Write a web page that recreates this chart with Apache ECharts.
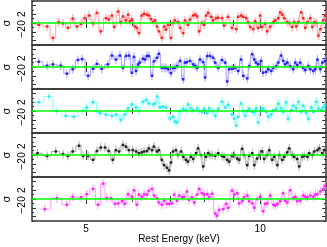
<!DOCTYPE html>
<html><head><meta charset="utf-8">
<script src="https://cdn.jsdelivr.net/npm/echarts@6/dist/echarts.min.js"></script>
<style>html,body{margin:0;padding:0;background:#fff}#c{width:327px;height:247px}</style>
</head><body><div id="c"></div>
<script>
const redE = [4.14,4.28,4.38,4.48,4.56,4.65,4.74,4.82,4.90,4.97,5.06,5.14,5.22,5.30,5.41,5.47,5.54,5.59,5.68,5.74,5.79,5.86,5.91,5.95,6.00,6.07,6.12,6.17,6.24,6.30,6.37,6.42,6.47,6.53,6.58,6.63,6.68,6.76,6.82,6.87,6.93,7.01,7.07,7.12,7.21,7.27,7.36,7.41,7.50,7.56,7.66,7.72,7.78,7.84,7.93,8.00,8.06,8.13,8.23,8.29,8.39,8.46,8.59,8.66,8.80,8.94,9.09,9.16,9.27,9.35,9.46,9.53,9.61,9.73,9.80,9.92,10.00,10.08,10.20,10.28,10.41,10.54,10.62,10.75,10.83,10.92,11.01,11.14,11.23,11.36,11.45,11.55,11.64,11.78,11.87,11.97,12.07,12.21,12.31,12.41,12.51,12.61,12.71,12.86,12.95];
const redV = [-0.4,-0.8,-3.4,0.2,-0.1,-1.1,1.0,-0.8,-0.2,1.1,1.7,-0.1,2.3,-1.9,1.1,0.8,1.7,-0.9,2.6,0.2,1.5,0.6,1.9,0.4,0.8,-0.8,-1.1,-2.3,1.7,2.1,1.9,1.7,0.9,0.2,0.6,-0.8,-1.9,-3.4,-0.8,-1.5,-0.4,-3.4,0,0.6,0.2,-1.1,-2.3,0.6,-0.4,0.8,1.7,1.9,1.5,-1.9,0,-0.4,1.7,2.3,1.4,0.6,1.1,1.2,1.1,-0.6,1.4,-1.1,-1.4,1.4,1.7,1.4,1.1,0.2,-0.9,-1.4,0.4,-1.1,1.7,-0.9,-0.2,-1.9,-0.8,0.2,0.6,1.1,2.4,1.9,1.1,0.2,0,-0.9,0.2,-0.8,0.2,2.4,1.1,-1.1,0.2,1.1,-0.9,0.2,0,-2.9,-1.4,0.6,1.7];

const blueE = [4.14,4.28,4.38,4.52,4.63,4.74,4.84,4.92,5.04,5.14,5.22,5.32,5.45,5.54,5.63,5.72,5.79,5.86,5.93,6.00,6.05,6.10,6.15,6.19,6.27,6.32,6.37,6.42,6.50,6.55,6.63,6.68,6.76,6.82,6.87,6.93,7.01,7.07,7.12,7.18,7.27,7.36,7.41,7.47,7.56,7.66,7.72,7.78,7.87,7.97,8.03,8.10,8.19,8.29,8.36,8.46,8.59,8.70,8.77,8.84,8.94,9.05,9.16,9.27,9.35,9.50,9.57,9.69,9.77,9.84,9.92,10.04,10.12,10.24,10.33,10.45,10.54,10.66,10.75,10.87,10.96,11.05,11.14,11.27,11.41,11.50,11.59,11.73,11.87,11.97,12.11,12.21,12.36,12.46,12.56,12.71,12.81,12.95];
const blueV = [1.2,0.3,0.6,0.3,-1.5,-0.5,1.6,1.8,-2.0,-0.4,0.7,-0.4,0.6,2.6,1.7,2.6,-0.2,2.5,2.6,-1.3,2.3,-0.9,0.6,1.0,1.9,1.7,2.5,2.5,-2.0,1.3,2.1,3.0,-0.2,-0.2,-0.2,-0.5,-1.4,-0.2,-0.2,0.2,1.4,-2.8,1.0,1.1,1.4,0.6,0.2,-0.2,1.7,1.1,-2.4,2.5,2.5,2.1,1.0,-0.2,1.6,1.0,-3.3,-0.5,-0.4,-0.2,-0.9,1.7,-2.0,-2.6,0.2,2.9,1.7,1.0,0.6,1.4,-1.3,-1.1,-0.5,-0.9,-0.2,0.2,1.0,2.6,1.4,0.6,1.0,0.2,-0.5,1.0,0.4,1.0,-0.2,-0.7,0.2,-0.5,-0.9,-0.5,1.7,-0.5,1.0,1.4];

const cyanE = [4.14,4.31,4.45,4.61,4.76,4.92,5.01,5.14,5.28,5.41,5.54,5.63,5.74,5.83,5.91,6.00,6.10,6.17,6.27,6.35,6.42,6.53,6.58,6.63,6.71,6.79,6.87,6.98,7.07,7.12,7.18,7.27,7.36,7.44,7.50,7.59,7.66,7.78,7.84,7.93,8.00,8.10,8.16,8.26,8.36,8.46,8.59,8.70,8.80,8.94,9.02,9.09,9.16,9.27,9.35,9.42,9.50,9.57,9.69,9.77,9.84,9.92,10.04,10.12,10.24,10.33,10.45,10.54,10.66,10.75,10.87,10.96,11.09,11.18,11.32,11.41,11.55,11.64,11.78,11.87,12.02,12.11,12.26,12.36,12.51,12.61,12.76,12.86,12.95];
const cyanV = [2.0,3.3,0,-1.1,-1.3,0,0.8,2.0,-0.5,-0.8,-1.1,-0.8,-2.0,-0.8,0.6,1.5,0.8,0,2.1,2.5,1.7,1.5,1.7,3.3,0.8,1.0,0.8,-1.7,-1.3,-2.4,-2.6,0,0.5,0.2,1.5,0.6,0.2,0.6,0,-0.2,0.5,-0.5,0.6,0,-1.1,0.5,2.1,0.8,1.4,-0.8,-1.7,-3.3,-1.3,1.7,0,-1.1,0,0.5,-0.2,-0.3,0.6,-2.6,0.2,0.6,-0.2,-1.3,-0.8,0.2,0.5,1.7,0.6,-0.2,2.0,-1.8,0.2,1.2,0.6,2.1,-0.2,1.2,-0.5,-1.8,0.8,-0.2,2.1,0.5,0.2,0.8,1.4];

const blackE = [4.12,4.28,4.43,4.56,4.65,4.74,4.86,4.94,5.04,5.14,5.22,5.30,5.39,5.47,5.56,5.63,5.70,5.79,5.86,5.93,6.02,6.10,6.17,6.24,6.30,6.37,6.42,6.50,6.55,6.63,6.68,6.76,6.82,6.90,6.96,7.01,7.07,7.15,7.21,7.30,7.36,7.44,7.50,7.59,7.66,7.75,7.81,7.90,7.97,8.06,8.13,8.19,8.26,8.36,8.46,8.59,8.66,8.77,8.84,8.94,9.02,9.13,9.20,9.31,9.38,9.50,9.57,9.69,9.77,9.88,9.96,10.08,10.16,10.28,10.37,10.49,10.58,10.71,10.79,10.92,11.01,11.14,11.23,11.36,11.45,11.59,11.68,11.83,11.92,12.07,12.16,12.31,12.41,12.56,12.66,12.81,12.91];
const blackV = [0.4,-0.2,0.8,0.2,-0.2,0.8,2.1,-0.2,-0.2,-1.1,0.9,1.7,1.7,0.9,-1.1,1.1,0.8,2.3,1.9,1.1,1.1,0.8,0.4,0.6,0.8,0.9,1.5,1.1,1.9,0.8,1.1,-1.1,-2.3,-2.9,-3.5,-1.7,0.8,1.1,0,0.8,-0.4,-1.1,-1.5,-0.4,-0.9,0.4,1.5,0,-2.6,-0.4,0.4,0,0,-0.2,0.4,-0.2,-0.4,-1.1,-1.5,-0.2,0,-0.8,-1.1,1.4,0,-2.3,-0.2,0.4,-2.3,-0.8,0,0.8,-0.9,0,1.1,-1.1,-0.4,-2.3,0,-1.1,-0.4,0.6,1.5,0,-0.4,-0.9,-2.6,-0.4,-0.2,-0.4,0.4,0,0.8,1.1,1.5,0.4,1.1];

const magE = [4.24,4.45,4.63,4.74,4.90,5.01,5.14,5.24,5.35,5.43,5.52,5.61,5.68,5.77,5.83,5.91,6.00,6.05,6.12,6.17,6.24,6.30,6.37,6.42,6.50,6.55,6.63,6.68,6.76,6.82,6.90,6.96,7.04,7.10,7.18,7.24,7.33,7.38,7.47,7.53,7.62,7.69,7.78,7.84,7.93,8.00,8.10,8.16,8.26,8.36,8.42,8.49,8.63,8.73,8.80,8.94,9.02,9.13,9.20,9.31,9.38,9.50,9.57,9.69,9.77,9.88,10.00,10.12,10.20,10.28,10.41,10.54,10.62,10.71,10.83,10.96,11.05,11.14,11.27,11.41,11.50,11.59,11.73,11.87,11.97,12.07,12.21,12.36,12.46,12.56,12.71,12.86,12.95];
const magV = [-2.3,0.2,-1.3,0.5,0.4,1.1,2.3,-1.3,3.5,0.2,0.2,-1.1,-1.0,-0.5,-1.1,1.1,0.5,2.0,-1.3,1.0,0.5,1.1,1.0,1.9,2.3,0.8,0.2,-0.8,-1.3,-0.4,-1.1,-1.1,-1.0,1.0,-0.4,0.8,0.4,0.5,1.7,-0.2,0.4,-0.8,1.0,2.3,1.3,1.0,1.1,0.4,1.2,-3.3,-3.8,-2.5,-2.3,-1.1,-2.0,1.9,1.0,1.3,-1.0,-0.5,0.4,0.8,-0.5,-1.0,-2.0,0,0.5,-2.8,-1.1,-1.0,0.8,-1.3,-1.5,-1.1,-0.5,1.3,-0.4,-0.8,2.0,0.2,0.5,-0.5,-0.4,0.8,0.5,0.4,0.8,0.5,1.0,1.1,1.7,2.3,3.0];

const xMajorTicks = [5, 10];
const xMinorTicks = [6, 7, 8, 9];
const yLabels = [-2, 0, 2];
const yMajorTicks = [-4, -2, 0, 2, 4];
const XMIN = 4.03, XMAX = 13.0;

const panels = [
  {E: redE, V: redV, color: '#ff0000', light: '#ffa0a0'},
  {E: blueE, V: blueV, color: '#0000ff', light: '#a0a0ff'},
  {E: cyanE, V: cyanV, color: '#00e8e8', light: '#90ffff'},
  {E: blackE, V: blackV, color: '#000000', light: '#a8a8a8'},
  {E: magE, V: magV, color: '#ff00ff', light: '#ffa0ff'}
];

function rows(E, V) {
  const n = E.length;
  return E.map((e, i) => {
    const lo = i > 0 ? Math.sqrt(E[i-1]*e) : e*e/Math.sqrt(e*E[i+1]);
    const hi = i < n-1 ? Math.sqrt(e*E[i+1]) : e*e/Math.sqrt(E[i-1]*e);
    return [e, V[i], Math.max(lo, XMIN), Math.min(hi, XMAX), i < n-1 ? V[i+1] : V[i], i < n-1 ? 1 : 0];
  });
}

const FONT = 'Liberation Sans, Arial, sans-serif';
const AX = '#333333';
const grids = [], xAxes = [], yAxes = [], series = [];
const NP = panels.length;
const PH = 44;

panels.forEach((p, i) => {
  const last = i === NP - 1;
  grids.push({left: 32, right: 1, top: 1 + PH*i, height: PH, containLabel: false, outerBoundsMode: 'none',
    show: true, borderColor: AX, borderWidth: 1.5, backgroundColor: 'transparent'});
  const bx = (pos, ticks, len, withLabel) => ({
    type: 'log', logBase: 10, min: XMIN, max: XMAX, gridIndex: i, position: pos,
    splitLine: {show: false}, axisLine: {show: false},
    axisTick: {show: true, inside: true, length: len, customValues: ticks, lineStyle: {color: AX, width: 1}},
    axisLabel: withLabel ? {show: true, customValues: xMajorTicks, fontSize: 10, color: '#000', fontFamily: FONT, margin: 3} : {show: false},
    name: withLabel ? 'Rest Energy (keV)' : '', nameLocation: 'middle', nameGap: 13, nameMoveOverlap: false,
    nameTextStyle: {fontSize: 10, color: '#000', fontFamily: FONT}
  });
  xAxes.push(bx('bottom', xMajorTicks, 5, last));
  xAxes.push(bx('bottom', xMinorTicks, 3, false));
  xAxes.push(bx('top', xMajorTicks, 5, false));
  xAxes.push(bx('top', xMinorTicks, 3, false));
  const by = (pos, major, withLabel) => ({
    type: 'value', min: -5, max: 5, interval: 1, gridIndex: i, position: pos,
    splitLine: {show: false}, axisLine: {show: false},
    axisTick: major ? {show: true, inside: true, length: 4, customValues: yMajorTicks, lineStyle: {color: AX, width: 1}}
                    : {show: true, inside: true, length: 2, lineStyle: {color: AX, width: 1}},
    axisLabel: withLabel ? {show: true, customValues: yLabels, rotate: 90, fontSize: 10, color: '#000', fontFamily: FONT, margin: 5,
      hideOverlap: false, formatter: v => v < 0 ? '\u2212' + Math.abs(v) : String(v)} : {show: false},
    name: withLabel ? 'σ' : '', nameLocation: 'middle', nameGap: 20, nameRotate: 90, nameMoveOverlap: false,
    nameTextStyle: {fontSize: 11, color: '#000', fontFamily: FONT}
  });
  yAxes.push(by('left', true, true));
  yAxes.push(by('left', false, false));
  yAxes.push(by('right', true, false));
  yAxes.push(by('right', false, false));

  const data = rows(p.E, p.V);
  series.push({
    type: 'custom', xAxisIndex: 4*i, yAxisIndex: 4*i, data: data, clip: true, z: 1,
    encode: {x: 0, y: 1}, silent: true,
    renderItem: (params, api) => {
      const x = api.value(0), y = api.value(1), lo = api.value(2), hi = api.value(3), yn = api.value(4);
      const st = {stroke: p.light, lineWidth: 1};
      const a = api.coord([lo, y]), b = api.coord([hi, y]);
      const t = api.coord([x, y + 1]), d = api.coord([x, y - 1]);
      const ch = [
        {type: 'line', shape: {x1: a[0], y1: a[1], x2: b[0], y2: b[1]}, style: st},
        {type: 'line', shape: {x1: t[0], y1: t[1], x2: d[0], y2: d[1]}, style: st}
      ];
      if (api.value(5)) {
        const n = api.coord([hi, yn]);
        ch.push({type: 'line', shape: {x1: b[0], y1: b[1], x2: n[0], y2: n[1]}, style: st});
      }
      return {type: 'group', children: ch};
    }
  });
  series.push({
    type: 'scatter', xAxisIndex: 4*i, yAxisIndex: 4*i, z: 3, silent: true,
    data: data.map(r => [r[0], r[1]]), symbol: 'rect', symbolSize: 2.5,
    itemStyle: {color: p.color},
    markLine: {silent: true, symbol: 'none', label: {show: false}, animation: false,
      lineStyle: {color: '#00ff00', width: 1.5, type: 'solid'}, data: [{yAxis: 0}]}
  });
});

const chart = echarts.init(document.getElementById('c'), null, {renderer: 'canvas'});
chart.setOption({animation: false, grid: grids, xAxis: xAxes, yAxis: yAxes, series: series});
</script>
</body></html>
